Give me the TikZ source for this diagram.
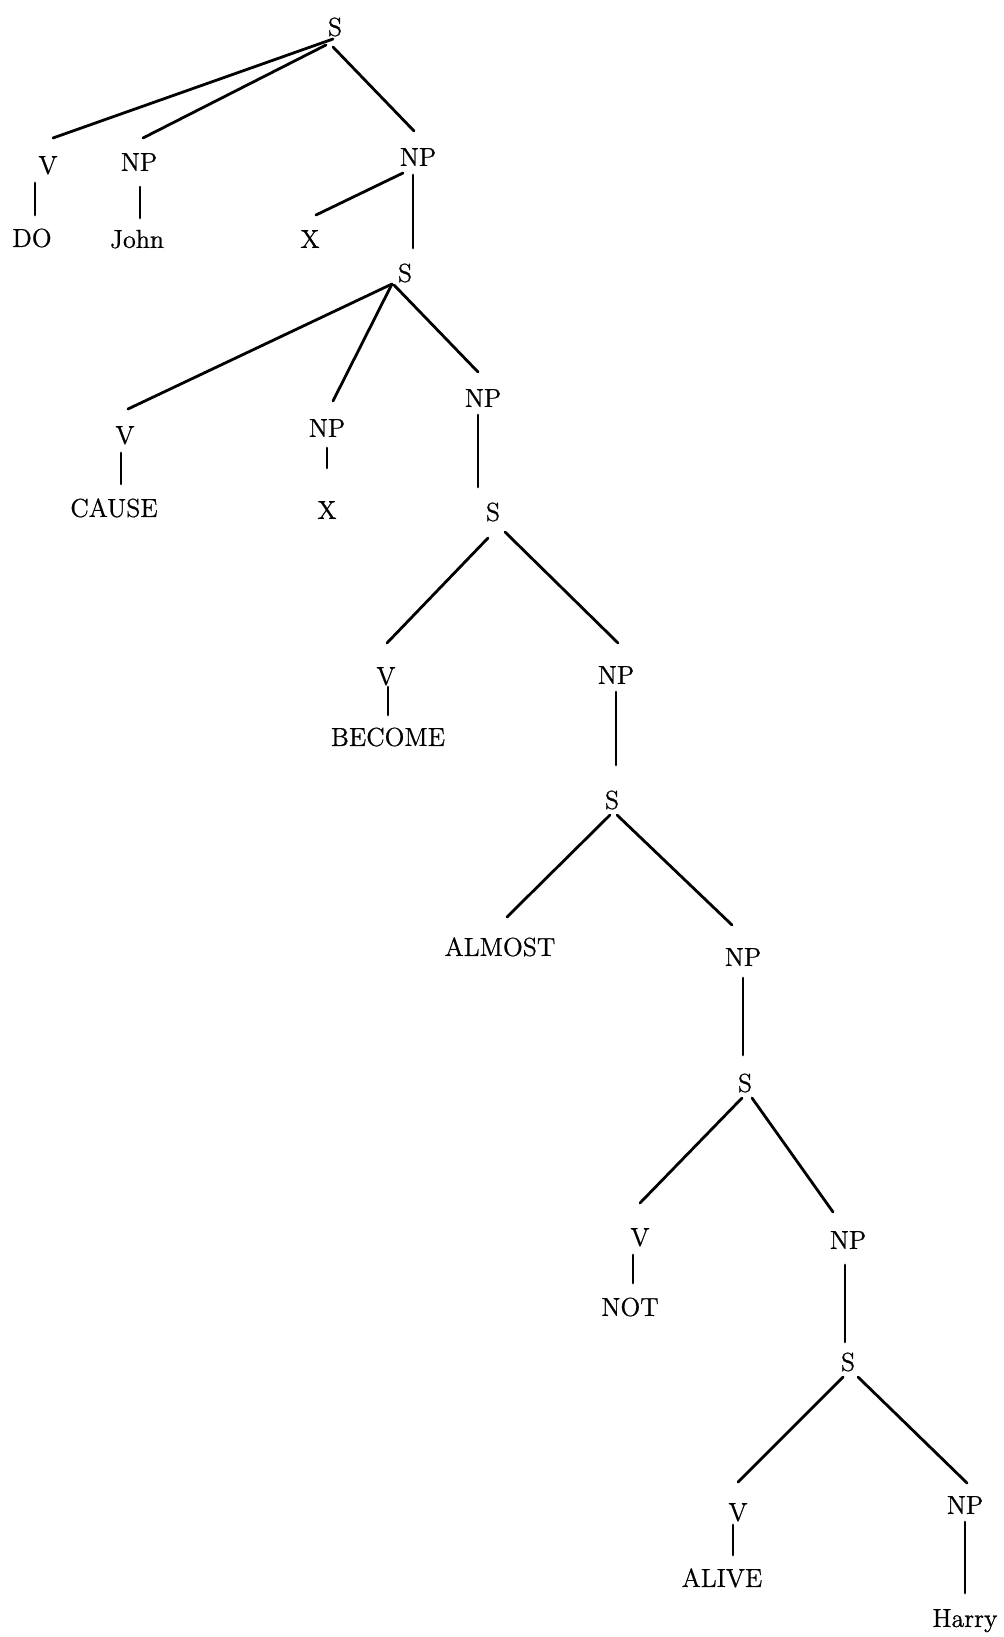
\documentclass[tikz,border=0pt]{standalone}
\usepackage{fontspec}
\newfontfamily\treefont{Latin Modern Roman}[FakeBold=0.8]
\begin{document}
\begin{tikzpicture}[x=0.5pt,y=-0.5pt,
  lbl/.style={inner sep=0pt, text height=8.9pt, text depth=0pt, font=\treefont\fontsize{13pt}{15pt}\selectfont},
  branch/.style={line width=1.4pt, line cap=round}]
\useasboundingbox (0,0) rectangle (1004,1637);
\newcommand\treeedge[4]{\draw[branch] ([shift={#2}]#1.center) -- ([shift={#4}]#3.center);}
% nodes
\node[lbl] (S1) at (335,27) {S};
\node[lbl] (V1) at (48,165) {V};
\node[lbl] (NP1) at (139,162) {NP};
\node[lbl] (NP2) at (418,157) {NP};
\node[lbl] (DO) at (32,238) {DO};
\node[lbl] (John) at (137,239) {John};
\node[lbl] (X1) at (310,239) {X};
\node[lbl] (S2) at (405,273) {S};
\node[lbl] (V2) at (125,435) {V};
\node[lbl] (NP3) at (327,428) {NP};
\node[lbl] (NP4) at (483,398) {NP};
\node[lbl] (CAUSE) at (114,508) {CAUSE};
\node[lbl] (X2) at (327,510) {X};
\node[lbl] (S3) at (493,512) {S};
\node[lbl] (V3) at (386,676) {V};
\node[lbl] (NP5) at (616,675) {NP};
\node[lbl] (BECOME) at (388,737) {BECOME};
\node[lbl] (S4) at (612,800) {S};
\node[lbl] (ALMOST) at (500,947) {ALMOST};
\node[lbl] (NP6) at (743,957) {NP};
\node[lbl] (S5) at (745,1083) {S};
\node[lbl] (V4) at (640,1237) {V};
\node[lbl] (NP7) at (848,1240) {NP};
\node[lbl] (NOT) at (630,1307) {NOT};
\node[lbl] (S6) at (848,1362) {S};
\node[lbl] (V5) at (738,1512) {V};
\node[lbl] (NP8) at (965,1505) {NP};
\node[lbl] (ALIVE) at (722,1578) {ALIVE};
\node[lbl] (Harry) at (965,1618) {Harry};
% branches
\treeedge{S1}{(-2,12)}{V1}{(5,-27)}
\treeedge{S1}{(-9,18)}{NP1}{(4,-24)}
\treeedge{S1}{(-2,20)}{NP2}{(-4,-26)}
\treeedge{V1}{(-13,18)}{DO}{(3,-23)}
\treeedge{NP1}{(1,25)}{John}{(3,-21)}
\treeedge{NP2}{(-15,16)}{X1}{(6,-24)}
\treeedge{NP2}{(-5,18)}{S2}{(8,-25)}
\treeedge{S2}{(-13,11)}{V2}{(3,-26)}
\treeedge{S2}{(-13,11)}{NP3}{(6,-27)}
\treeedge{S2}{(-11,12)}{NP4}{(-5,-26)}
\treeedge{V2}{(-4,18)}{CAUSE}{(7,-24)}
\treeedge{NP3}{(0,20)}{X2}{(0,-42)}
\treeedge{NP4}{(-5,17)}{S3}{(-15,-25)}
\treeedge{S3}{(-5,26)}{V3}{(1,-33)}
\treeedge{S3}{(12,20)}{NP5}{(2,-32)}
\treeedge{V3}{(2,11)}{BECOME}{(0,-22)}
\treeedge{NP5}{(0,17)}{S4}{(4,-35)}
\treeedge{S4}{(-2,15)}{ALMOST}{(7,-30)}
\treeedge{S4}{(5,15)}{NP6}{(-11,-32)}
\treeedge{NP6}{(0,21)}{S5}{(-2,-28)}
\treeedge{S5}{(-3,15)}{V4}{(0,-34)}
\treeedge{S5}{(7,15)}{NP7}{(-15,-28)}
\treeedge{V4}{(-7,18)}{NOT}{(3,-24)}
\treeedge{NP7}{(-3,25)}{S6}{(-3,-20)}
\treeedge{S6}{(-5,15)}{V5}{(0,-30)}
\treeedge{S6}{(10,15)}{NP8}{(2,-22)}
\treeedge{V5}{(-5,13)}{ALIVE}{(11,-23)}
\treeedge{NP8}{(0,17)}{Harry}{(0,-25)}
\end{tikzpicture}
\end{document}
